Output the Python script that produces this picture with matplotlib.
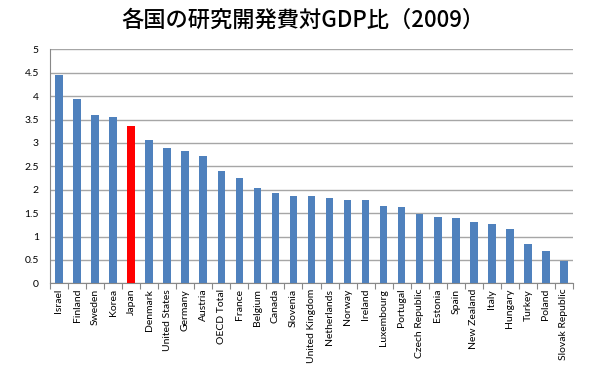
import numpy as np
import matplotlib
matplotlib.use("Agg")
from matplotlib import pyplot as plt
from matplotlib.ticker import MultipleLocator, FixedLocator, FuncFormatter

countries = [
    "Israel", "Finland", "Sweden", "Korea", "Japan", "Denmark", "United States",
    "Germany", "Austria", "OECD Total", "France", "Belgium", "Canada", "Slovenia",
    "United Kingdom", "Netherlands", "Norway", "Ireland", "Luxembourg", "Portugal",
    "Czech Republic", "Estonia", "Spain", "New Zealand", "Italy", "Hungary",
    "Turkey", "Poland", "Slovak Republic",
]
rd_ratio = [
    4.45, 3.93, 3.60, 3.56, 3.36, 3.06, 2.90, 2.82, 2.72, 2.40, 2.26, 2.03,
    1.92, 1.87, 1.86, 1.82, 1.78, 1.77, 1.66, 1.64, 1.48, 1.42, 1.39, 1.30,
    1.26, 1.17, 0.85, 0.68, 0.48,
]
highlight = "Japan"

blue = "#4F81BD"
red = "#FF0000"
colors = [red if c == highlight else blue for c in countries]
label_font = ["Lato", "DejaVu Sans"]

fig = plt.figure(figsize=(6, 3.71), dpi=100)
ax = fig.add_axes([0.0833, 0.2364, 0.8717, 0.6306])

x = np.arange(len(countries))
ax.bar(x, rd_ratio, width=0.42, color=colors, zorder=3)

ax.set_xlim(-0.5, len(countries) - 0.5)
ax.set_ylim(0, 5)
ax.yaxis.set_major_locator(MultipleLocator(0.5))
ax.yaxis.set_major_formatter(FuncFormatter(lambda v, p: f"{v:g}"))
ax.grid(axis="y", color="#A6A6A6", linewidth=1.0, zorder=0)

ax.set_xticks(x)
ax.set_xticklabels(countries, rotation=90, fontsize=7.5, family=label_font)
ax.xaxis.set_minor_locator(FixedLocator(np.arange(-0.5, len(countries), 1.0)))
ax.tick_params(axis="x", which="major", length=0, pad=4)
ax.tick_params(axis="x", which="minor", length=4, color="#888888", width=0.8)
ax.tick_params(axis="y", length=0, labelsize=7.5, pad=8)
for lab in ax.get_yticklabels():
    lab.set_family(label_font)

for side in ["top", "right"]:
    ax.spines[side].set_visible(False)
for side in ["left", "bottom"]:
    ax.spines[side].set_color("#888888")
    ax.spines[side].set_linewidth(0.8)

fig.text(0.505, 0.945, "各国の研究開発費対GDP比（2009）", ha="center", va="center",
         fontsize=16, fontweight="medium", family=["Noto Sans CJK JP", "DejaVu Sans"])

fig.savefig("out.png", dpi=100)
